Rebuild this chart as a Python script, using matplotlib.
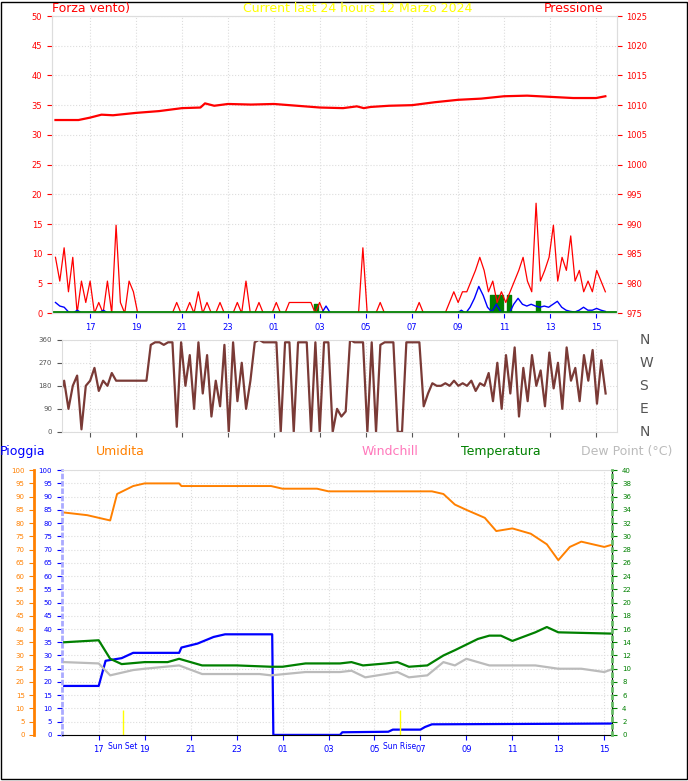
import matplotlib
matplotlib.use('Agg')
import matplotlib.pyplot as plt
import numpy as np

# hours since midnight of day 1 (24+ = next day)
hour_ticks = [17, 19, 21, 23, 25, 27, 29, 31, 33, 35, 37, 39]
hour_labels = ['17', '19', '21', '23', '01', '03', '05', '07', '09', '11', '13', '15']
t_start, t_end = 15.5, 39.4

# pressure (hPa)
p_t = [15.5, 16.5, 17, 17.5, 18, 19, 20, 21, 21.8, 22, 22.4, 23, 24, 25, 26, 27, 28, 28.6, 28.9, 29.2, 30, 31, 32, 33, 34, 35, 36, 37, 38, 39, 39.4]
p_v = [1007.5, 1007.5, 1007.9, 1008.4, 1008.3, 1008.7, 1009.0, 1009.5, 1009.6, 1010.3, 1009.9, 1010.2, 1010.1, 1010.2, 1009.9, 1009.6, 1009.5, 1009.8, 1009.5, 1009.7, 1009.9, 1010.0, 1010.5, 1010.9, 1011.1, 1011.5, 1011.6, 1011.4, 1011.2, 1011.2, 1011.5]

# wind, evenly sampled between t_start and t_end
gust = [9.4, 5.4, 11, 3.6, 9.4, 0, 5.4, 1.8, 5.4, 0, 1.8, 0, 5.4, 0, 14.8, 1.8, 0, 5.4, 3.6, 0, 0, 0, 0, 0,
        0, 0, 0, 0, 1.8, 0, 0, 1.8, 0, 3.6, 0, 1.8, 0, 0, 1.8, 0, 0, 0, 1.8, 0, 5.4, 0, 0, 1.8, 0, 0, 0, 1.8, 0, 0,
        1.8, 1.8, 1.8, 1.8, 1.8, 1.8, 0, 1.8, 0, 0, 0, 0, 0, 0, 0, 0, 0, 11, 0, 0, 0, 1.8, 0, 0, 0, 0, 0, 0, 0, 0,
        1.8, 0, 0, 0, 0, 0, 0, 1.8, 3.6, 1.8, 3.6, 3.6, 5.4, 7.2, 9.4, 7.2, 3.6, 5.4, 1.8, 3.6, 1.8, 3.6, 5.4, 7.2, 9.4,
        5.4, 3.6, 18.5, 5.4, 7.2, 9.4, 14.8, 5.4, 9.4, 7.2, 13, 5.4, 7.2, 3.6, 5.4, 3.6, 7.2, 5.4, 3.6]
avg = [1.8, 1.2, 1.0, 0.2, 0, 0.5, 0, 0, 0, 0, 0.1, 0.5, 0, 0, 0, 0, 0, 0, 0, 0, 0, 0, 0, 0,
       0, 0, 0, 0, 0, 0, 0, 0, 0, 0, 0, 0, 0, 0, 0, 0, 0, 0, 0, 0, 0, 0, 0, 0, 0, 0, 0, 0, 0, 0,
       0, 0, 0, 0, 0, 0, 0, 0, 1.2, 0, 0, 0, 0, 0, 0, 0, 0, 0, 0, 0, 0, 0, 0, 0, 0, 0, 0, 0, 0, 0,
       0, 0, 0, 0, 0, 0, 0, 0, 0, 0.5, 0, 1.0, 2.5, 4.5, 3.0, 1.0, 0.2, 1.5, 0.3, 0, 0, 1.5, 2.5, 1.5,
       1.2, 1.5, 1.2, 1.0, 1.2, 1.0, 1.5, 2.0, 1.0, 0.5, 0.3, 0.2, 0.5, 1.0, 0.5, 0.5, 0.8, 0.5, 0.3]
calm = [0] * 62 + [1.5, 0] + [0] * 40 + [3.0, 3.0, 3.0, 0, 3.0, 0] + [0] * 5 + [2.0, 0] + [0] * 15

# wind direction (deg), evenly sampled
wdir = [180, 140, 200, 90, 180, 220, 10, 180, 200, 250, 160, 200, 180, 230, 200, 200, 200, 200, 200, 200, 200, 200,
        340, 350, 350, 340, 350, 350, 20, 350, 180, 300, 90, 350, 150, 300, 60, 200, 100, 340, 0, 350,
        120, 270, 90, 200, 350, 360, 350, 350, 350, 350, 0, 350, 350, 0, 350, 350, 350, 0, 350, 0, 350, 350,
        0, 90, 60, 80, 360, 350, 350, 350, 0, 350, 0, 340, 350, 350, 350, 0, 0, 350, 350, 350, 350,
        100, 150, 190, 180, 180, 190, 180, 200, 180, 190, 180, 200, 160, 190, 180, 230, 120, 270, 90, 300, 150,
        330, 60, 250, 120, 300, 180, 240, 100, 310, 170, 270, 90, 330, 200, 250, 120, 300, 200, 320, 110, 280, 150]

# bottom panel
h_t = [15.5, 16.5, 17, 17.5, 17.8, 18.5, 19, 20.5, 20.6, 24.5, 25, 26.5, 27, 31.5, 32, 32.5, 33, 33.8, 34.3, 35, 35.8, 36.5, 37, 37.5, 38, 39, 39.4]
h_v = [84, 83, 82, 81, 91, 94, 95, 95, 94, 94, 93, 93, 92, 92, 91, 87, 85, 82, 77, 78, 76, 72, 66, 71, 73, 71, 72]
t_t = [15.5, 17, 17.5, 18, 19, 20, 20.5, 21.5, 23, 24.5, 25, 26, 27.5, 28, 28.5, 29.5, 30, 30.5, 31.3, 32, 32.5, 33.5, 34, 34.5, 35, 36, 36.5, 37, 39.4]
t_v = [14, 14.3, 11.5, 10.7, 11, 11, 11.5, 10.5, 10.5, 10.3, 10.3, 10.8, 10.8, 11, 10.5, 10.8, 11, 10.3, 10.5, 12, 12.8, 14.5, 15, 15, 14.2, 15.5, 16.3, 15.5, 15.3]
d_t = [15.5, 17, 17.5, 18.5, 19, 20.5, 21.5, 24, 24.5, 26, 27.5, 28, 28.6, 29.5, 30, 30.5, 31.3, 32, 32.5, 33, 34, 35, 36, 37, 38, 39, 39.4]
d_v = [11, 10.8, 9, 9.8, 10, 10.5, 9.2, 9.2, 9, 9.5, 9.5, 9.7, 8.7, 9.2, 9.5, 8.7, 9, 11, 10.5, 11.5, 10.5, 10.5, 10.5, 10, 10, 9.5, 10]
r_t = [15.5, 17, 17.3, 18, 18.5, 20.5, 20.6, 21.3, 22, 22.5, 24.55, 24.6, 27.5, 27.6, 29.6, 29.8, 31.0, 31.2, 31.5, 39.4]
r_v = [18.5, 18.5, 28, 29, 31, 31, 33, 34.5, 37, 38, 38, 0, 0, 1, 1.2, 2, 2, 3, 4, 4.3]
sun_set, sun_rise = 18.05, 30.1

grid_kw = dict(color='#dddddd', linestyle=':', linewidth=0.8)
fig = plt.figure(figsize=(6.88, 7.81), dpi=100)
fig.patch.set_facecolor('white')
fig.patches.append(plt.Rectangle((0.001, 0.003), 0.997, 0.995, fill=False, edgecolor='black', lw=1, transform=fig.transFigure))


def times(series):
    return np.linspace(t_start, t_end, len(series))


# ---- top: wind + pressure
ax = fig.add_axes([0.0756, 0.599, 0.821, 0.3805])
ax.set_xlim(15.35, 39.9)
ax.set_ylim(0, 50)
ax.plot(times(gust), gust, color='red', lw=0.9)
ax.plot(times(avg), avg, color='blue', lw=1.0)
ax.fill_between(times(calm), calm, color='green', step='mid')
ax.axhline(0.2, color='green', lw=2)
ax.set_yticks(range(0, 51, 5))
ax.tick_params(axis='y', colors='red', labelsize=6)
ax.set_xticks(hour_ticks, hour_labels)
ax.tick_params(axis='x', colors='blue', labelsize=6)
ax.grid(True, **grid_kw)
for s in ax.spines.values():
    s.set_color('#dddddd')
ax2 = ax.twinx()
ax2.set_ylim(975, 1025)
ax2.plot(p_t, p_v, color='red', lw=1.6)
ax2.set_yticks(range(975, 1026, 5))
ax2.tick_params(axis='y', colors='red', labelsize=6)
for s in ax2.spines.values():
    s.set_color('#dddddd')
fig.text(0.075, 0.981, 'Forza vento)', color='red', fontsize=9, va='bottom')
fig.text(0.52, 0.981, 'Current last 24 hours 12 Marzo 2024', color='yellow', fontsize=9, va='bottom', ha='center')
fig.text(0.877, 0.981, 'Pressione', color='red', fontsize=9, va='bottom', ha='right')

# ---- middle: direction
axd = fig.add_axes([0.090, 0.447, 0.807, 0.118])
axd.set_xlim(15.78, 39.9)
axd.set_ylim(0, 360)
axd.plot(times(wdir), wdir, color='#7a3a36', lw=1.6)
axd.set_yticks([0, 90, 180, 270, 360])
axd.set_xticks(hour_ticks, [])
axd.tick_params(labelsize=5, colors='#555555')
axd.grid(True, **grid_kw)
for s in axd.spines.values():
    s.set_color('#dddddd')
for v, lab in zip([360, 270, 180, 90, 0], ['N', 'W', 'S', 'E', 'N']):
    axd.text(1.04, v / 360, lab, transform=axd.transAxes, fontsize=10, color='#555555', va='center')

# ---- bottom: rain, humidity, temperature, dew point
axb = fig.add_axes([0.090, 0.059, 0.800, 0.339])
axb.set_xlim(15.4, 39.35)
axb.set_ylim(0, 100)
axb.plot(h_t, h_v, color='#ff8000', lw=1.4)
axb.plot(r_t, r_v, color='blue', lw=1.6)
axb.vlines([sun_set, sun_rise], 0, 9.5, color='yellow', lw=1)
axb.set_yticks(range(0, 101, 5))
axb.tick_params(axis='y', colors='blue', labelsize=5)
axb.spines['left'].set_color('#aaaaff')
axb.spines['left'].set_linestyle(':')
axb.spines['left'].set_linewidth(2)
axb.set_xticks(hour_ticks, hour_labels)
axb.tick_params(axis='x', colors='blue', labelsize=6)
for x, lab in [(sun_set, 'Sun Set'), (sun_rise, 'Sun Rise')]:
    axb.text(x, -0.025, lab, transform=axb.get_xaxis_transform(), ha='center', va='top', color='blue', fontsize=5.5)
axb.grid(True, **grid_kw)
for k in ['top', 'bottom']:
    axb.spines[k].set_color('#dddddd')
axh = axb.twinx()
axh.set_ylim(0, 100)
axh.spines['left'].set_position(('axes', -0.05))
axh.spines['left'].set_visible(True)
axh.spines['left'].set_color('#ff8000')
axh.spines['left'].set_linewidth(2)
axh.yaxis.set_label_position('left')
axh.yaxis.tick_left()
axh.set_yticks(range(0, 101, 5))
axh.tick_params(axis='y', colors='#ff8000', labelsize=5)
axh.spines['right'].set_visible(False)
axh.spines['top'].set_visible(False)
axt = axb.twinx()
axt.set_ylim(0, 40)
axt.plot(t_t, t_v, color='green', lw=1.6)
axt.plot(d_t, d_v, color='#bbbbbb', lw=1.6)
axt.set_yticks(range(0, 41, 2))
axt.tick_params(axis='y', colors='green', labelsize=5)
axt.spines['right'].set_color('#66bb66')
axt.spines['right'].set_linestyle(':')
axt.spines['right'].set_linewidth(2)
for k in ['top', 'left', 'bottom']:
    axt.spines[k].set_visible(False)
ly = 0.418
fig.text(0.0, ly, 'Pioggia', color='blue', fontsize=9)
fig.text(0.14, ly, 'Umidita', color='#ff8000', fontsize=9)
fig.text(0.525, ly, 'Windchill', color='#ff77bb', fontsize=9)
fig.text(0.67, ly, 'Temperatura', color='green', fontsize=9)
fig.text(0.845, ly, 'Dew Point (°C)', color='#bbbbbb', fontsize=9)

fig.savefig('out.png', dpi=100)
